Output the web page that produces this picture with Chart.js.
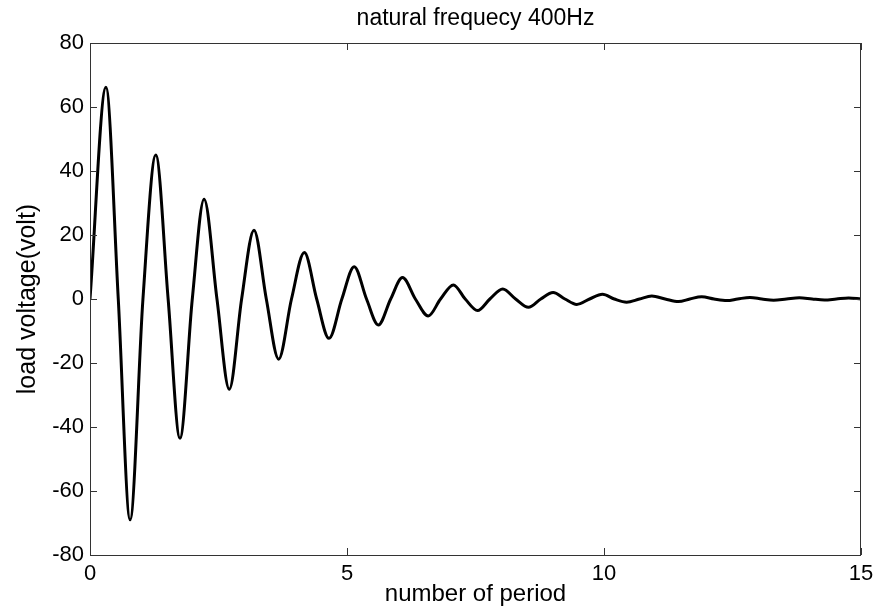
<!DOCTYPE html>
<html>
<head>
<meta charset="utf-8">
<title>natural frequecy 400Hz</title>
<script src="https://cdn.jsdelivr.net/npm/chart.js@4.4.1/dist/chart.umd.min.js"></script>
<style>
  html, body { margin: 0; padding: 0; background: #fff; }
  #wrap { width: 880px; height: 616px; }
</style>
</head>
<body>
<div id="wrap"><canvas id="plot" width="880" height="616"></canvas></div>
<script>
// Valeurs : crêtes, creux et passages par zéro
const periodX = [
    0, 0.31, 0.55, 0.78, 1.03, 1.28, 1.52, 1.75, 1.99, 2.22,
    2.47, 2.71, 2.95, 3.19, 3.43, 3.67, 3.92, 4.17, 4.41, 4.65,
    4.9, 5.14, 5.38, 5.61, 5.85, 6.08, 6.33, 6.58, 6.82, 7.07,
    7.3, 7.54, 7.78, 8.03, 8.28, 8.53, 8.77, 9.01, 9.24, 9.47,
    9.72, 9.97, 10.2, 10.44, 10.69, 10.93, 11.19, 11.45, 11.67, 11.9,
    12.14, 12.39, 12.6, 12.84, 13.07, 13.3, 13.55, 13.8, 14.05, 14.29,
    14.52, 14.76, 15
];
const loadVoltage = [
    0, 66.2, 0, -69, 0, 45, 0, -43.5, 0, 31.2,
    0, -28.2, 0, 21.5, 0, -18.8, 0, 14.5, 0, -12.3,
    0, 10.1, 0, -8.1, 0, 6.7, 0, -5.3, 0, 4.4,
    0, -3.6, 0, 3.1, 0, -2.6, 0, 2.0, 0, -1.7,
    0, 1.5, 0, -1.0, 0, 0.9, 0, -0.8, 0, 0.7,
    0, -0.5, 0, 0.5, 0, -0.4, 0, 0.4, 0, -0.3,
    0, 0.3, 0
];
const xTicks = [0, 5, 10, 15];
const yTicks = [-80, -60, -40, -20, 0, 20, 40, 60, 80];

const fontFamily = "'Liberation Sans', Arial, sans-serif";
const axisColor = "#333333";

// Titre centré sur la zone du graphique (comme MATLAB)
const centerTitle = {
    id: "centerTitle",
    afterLayout(chart) {
        const t = chart.titleBlock;
        if (t) {
            t.left = chart.chartArea.left;
            t.right = chart.chartArea.right;
        }
    }
};

// Cadre complet et graduations vers l'intérieur
const matlabBox = {
    id: "matlabBox",
    afterDatasetsDraw(chart) {
        const { ctx, chartArea: a, scales } = chart;
        const len = 7;
        ctx.save();
        ctx.strokeStyle = axisColor;
        ctx.lineWidth = 1;
        ctx.strokeRect(a.left + 0.5, a.top + 0.5, a.right - a.left - 1, a.bottom - a.top);
        ctx.beginPath();
        scales.x.ticks.forEach(t => {
            const px = Math.round(scales.x.getPixelForValue(t.value)) + 0.5;
            ctx.moveTo(px, a.bottom);
            ctx.lineTo(px, a.bottom - len);
            ctx.moveTo(px, a.top);
            ctx.lineTo(px, a.top + len);
        });
        scales.y.ticks.forEach(t => {
            const py = Math.round(scales.y.getPixelForValue(t.value)) + 0.5;
            ctx.moveTo(a.left, py);
            ctx.lineTo(a.left + len, py);
            ctx.moveTo(a.right, py);
            ctx.lineTo(a.right - len, py);
        });
        ctx.stroke();
        ctx.restore();
    }
};

const points = periodX.map((x, i) => ({ x: x, y: loadVoltage[i] }));

new Chart(document.getElementById("plot").getContext("2d"), {
    type: "line",
    data: {
        datasets: [{
            data: points,
            borderColor: "#000000",
            borderWidth: 3,
            pointRadius: 0,
            fill: false,
            cubicInterpolationMode: "monotone"
        }]
    },
    options: {
        responsive: false,
        animation: false,
        layout: { padding: { left: 0, right: 19, top: 0, bottom: 0 } },
        plugins: {
            legend: { display: false },
            tooltip: { enabled: false },
            title: {
                display: true,
                text: "natural frequecy 400Hz",
                color: "#000",
                font: { family: fontFamily, size: 23, weight: "normal" },
                padding: { top: 5, bottom: 10.4 }
            }
        },
        scales: {
            x: {
                type: "linear",
                min: 0,
                max: 15,
                afterBuildTicks: s => { s.ticks = xTicks.map(v => ({ value: v })); },
                afterFit: s => { s.height = 61; },
                grid: { display: false, drawTicks: false },
                border: { display: false },
                ticks: {
                    color: "#000",
                    padding: 6,
                    maxRotation: 0,
                    font: { family: fontFamily, size: 22 }
                },
                title: {
                    display: true,
                    text: "number of period",
                    color: "#000",
                    font: { family: fontFamily, size: 24 },
                    padding: { top: 0, bottom: 7 }
                }
            },
            y: {
                type: "linear",
                min: -80,
                max: 80,
                afterBuildTicks: s => { s.ticks = yTicks.map(v => ({ value: v })); },
                afterFit: s => { s.width = 90; },
                grid: { display: false, drawTicks: false },
                border: { display: false },
                ticks: {
                    color: "#000",
                    padding: 6,
                    font: { family: fontFamily, size: 22 }
                },
                title: {
                    display: true,
                    text: "load voltage(volt)",
                    color: "#000",
                    font: { family: fontFamily, size: 25 },
                    padding: { top: 13, bottom: 0 }
                }
            }
        }
    },
    plugins: [centerTitle, matlabBox]
});
</script>
</body>
</html>
